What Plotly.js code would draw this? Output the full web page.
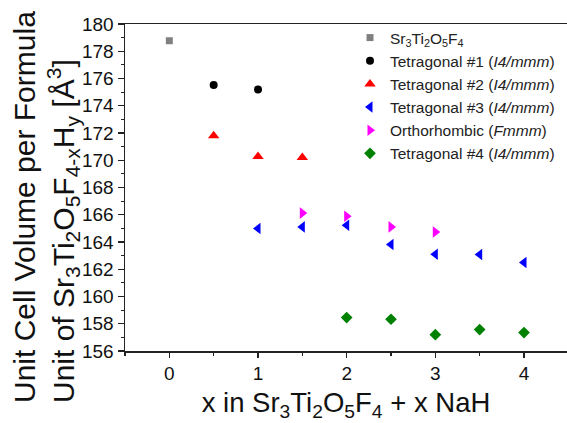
<!DOCTYPE html>
<html>
<head>
<meta charset="utf-8">
<script src="https://cdn.plot.ly/plotly-3.0.1.min.js"></script>
<style>html,body{margin:0;padding:0;background:#fff;}#chart{width:567px;height:423px;}</style>
</head>
<body>
<div id="chart"></div>
<script>
// Series data
const seriesNames = [
  "Sr<sub>3</sub>Ti<sub>2</sub>O<sub>5</sub>F<sub>4</sub>",
  "Tetragonal #1 (<i>I4/mmm</i>)",
  "Tetragonal #2 (<i>I4/mmm</i>)",
  "Tetragonal #3 (<i>I4/mmm</i>)",
  "Orthorhombic (<i>Fmmm</i>)",
  "Tetragonal #4 (<i>I4/mmm</i>)"
];
const xSr = [0];
const ySr = [178.77];
const xTet1 = [0.5, 1];
const yTet1 = [175.52, 175.20];
const xTet2 = [0.5, 1, 1.5];
const yTet2 = [171.80, 170.28, 170.20];
const xTet3 = [1, 1.5, 2, 2.5, 3, 3.5, 4];
const yTet3 = [164.99, 165.11, 165.23, 163.81, 163.10, 163.08, 162.49];
const xOrth = [1.5, 2, 2.5, 3];
const yOrth = [166.12, 165.89, 165.11, 164.74];
const xTet4 = [2, 2.5, 3, 3.5, 4];
const yTet4 = [158.45, 158.33, 157.20, 157.57, 157.35];
const xTickVals = [0, 1, 2, 3, 4];
const yTickVals = [156, 158, 160, 162, 164, 166, 168, 170, 172, 174, 176, 178, 180];
const yTitle = "Unit Cell Volume per Formula<br>Unit of Sr<sub>3</sub>Ti<sub>2</sub>O<sub>5</sub>F<sub>4-x</sub>H<sub>y</sub> [Å<sup>3</sup>]";
const xTitle = "x in Sr<sub>3</sub>Ti<sub>2</sub>O<sub>5</sub>F<sub>4</sub> + x NaH";

const xs = [xSr, xTet1, xTet2, xTet3, xOrth, xTet4];
const ys = [ySr, yTet1, yTet2, yTet3, yOrth, yTet4];
const symbols = ["square", "circle", "triangle-up", "triangle-left", "triangle-right", "diamond"];
const colors = ["#808080", "#000000", "#ff0000", "#0000ff", "#ff00ff", "#008000"];
const sizes = [7, 8, 10, 10, 10, 9];

const traces = xs.map((x, i) => ({
  x: x, y: ys[i], type: "scatter", mode: "markers",
  name: seriesNames[i], legendgroup: "g" + i,
  marker: {symbol: symbols[i], color: colors[i], size: sizes[i], line: {width: 0}}
}));

const font = "Liberation Sans, Arial, sans-serif";
const L = 125, T = 24, B = 72, W = 567, H = 423;
const pw = W - L, ph = H - T - B;
const layout = {
  width: W, height: H,
  margin: {l: L, r: 0, t: T, b: B, pad: 0},
  paper_bgcolor: "#fff", plot_bgcolor: "#fff",
  font: {family: font, color: "#111"},
  showlegend: true,
  legend: {xref: "paper", yanchor: "top", bgcolor: "rgba(0,0,0,0)",
           x: (350 - L) / pw, y: 1 + 3 / ph,
           font: {family: font, size: 15.5, color: "#222"}, tracegroupgap: 0, itemsizing: "trace"},
  xaxis: {
    range: [-0.5, 4.485], showgrid: false, zeroline: false,
    showline: true, linecolor: "#222", linewidth: 1.5, mirror: true,
    ticks: "outside", ticklen: 5, tickwidth: 1.2, tickcolor: "#222",
    tickvals: xTickVals, ticktext: xTickVals.map(String),
    tickfont: {family: font, size: 19, color: "#111"},
    minor: {dtick: 0.5, ticks: "outside", ticklen: 3, tickcolor: "#222", showgrid: false},
    title: {text: xTitle, font: {family: font, size: 27.5, color: "#111"}, standoff: 9}
  },
  yaxis: {
    range: [156, 180], showgrid: false, zeroline: false,
    showline: true, linecolor: "#222", linewidth: 1.5, mirror: false,
    ticks: "outside", ticklen: 6, tickwidth: 1.2, tickcolor: "#222",
    tickvals: yTickVals, ticktext: yTickVals.map(String),
    tickfont: {family: font, size: 19, color: "#111"},
    minor: {dtick: 1, ticks: "outside", ticklen: 3, tickcolor: "#222", showgrid: false}
  },
  annotations: [{
    text: yTitle, showarrow: false, textangle: -90, align: "left",
    xref: "paper", yref: "paper",
    x: (6 - L) / pw, xanchor: "left",
    y: (H - B - 405) / ph, yanchor: "bottom",
    font: {family: font, size: 30, color: "#111"}
  }]
};

Plotly.newPlot("chart", traces, layout, {displayModeBar: false, staticPlot: true});
</script>
</body>
</html>
